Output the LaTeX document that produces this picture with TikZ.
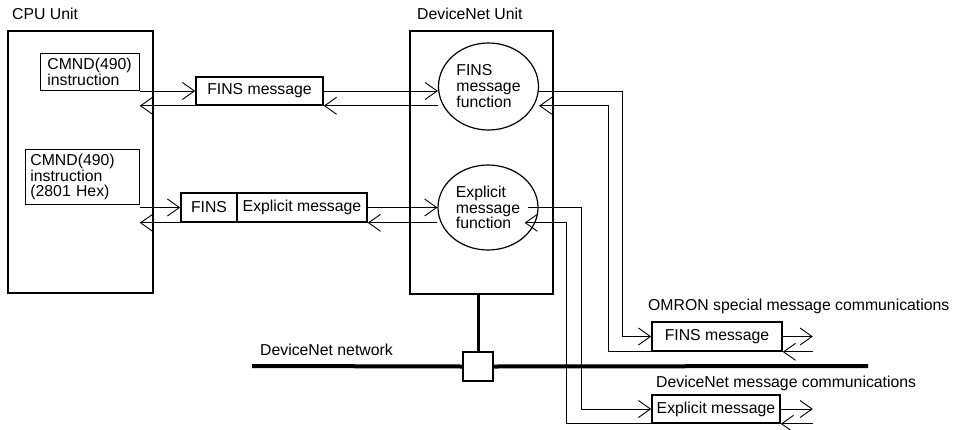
\documentclass[tikz,border=0pt]{standalone}
\usepackage{fontspec}
\setmainfont{Liberation Sans}
\usetikzlibrary{arrows.meta, shapes.geometric}

\begin{document}
\begin{tikzpicture}[x=1pt, y=-1pt,
    every node/.style={font=\fontsize{15.8}{16}\selectfont},
    unit/.style={draw, line width=1.6pt, inner sep=0pt},
    cmd/.style={draw, line width=0.8pt, anchor=north west, align=left, inner ysep=0pt, font=\fontsize{15.8}{13}\selectfont},
    msgbox/.style={draw, line width=1.6pt, inner sep=0pt, minimum height=28pt},
    func/.style={draw, ellipse, line width=1.2pt, inner sep=0pt, minimum width=100pt, align=left},
    lbl/.style={anchor=base west, inner sep=0pt},
    net/.style={line width=4pt},
    msg/.style={-{Straight Barb[length=12pt, width=17pt]}, line width=0.9pt}]
    \useasboundingbox (0, 0) rectangle (954, 429);

    \node[unit, minimum width=145pt, minimum height=262pt] at (80.5, 162) (CPU) {};
    \node[unit, minimum width=143pt, minimum height=263pt] at (481.5, 162.5) (DNU) {};
    \node[lbl] at (12, 19) (lCPU) {CPU Unit};
    \node[lbl] at (417, 19) (lDNU) {DeviceNet Unit};

    \node[cmd, text width=85pt, inner xsep=7pt, minimum height=37pt] at (40, 53) (C1) {CMND(490)\\instruction};
    \node[cmd, text width=104pt, inner xsep=5pt, minimum height=55pt, font=\fontsize{15.8}{14.5}\selectfont] at (25, 149) (C2) {CMND(490)\\instruction\\(2801 Hex)};

    \node[msgbox, minimum width=127pt] at (259.5, 91) (S1) {FINS message};
    \node[msgbox, minimum width=56pt, minimum height=29pt] at (209, 207.5) (F2) {FINS};
    \node[msgbox, minimum width=130pt, minimum height=29pt] at (302, 207.5) (X2) {Explicit message};

    \node[func, minimum height=87pt] at (488.5, 86.5) (E1) {FINS\\message\\function};
    \node[func, minimum height=85pt, font=\fontsize{15.8}{15.5}\selectfont] at (488, 207.5) (E2) {Explicit\\message\\function};

    \node[msgbox, minimum width=130pt, minimum height=29pt] at (717, 336.5) (FM) {FINS message};
    \node[msgbox, minimum width=128pt] at (716, 409) (XM) {Explicit message};
    \node[lbl] at (648, 310) (lOmron) {OMRON special message communications};
    \node[lbl] at (656, 387) (lDnMsg) {DeviceNet message communications};

    \node[draw, line width=1.2pt, minimum width=30pt, minimum height=29pt, inner sep=0pt] at (478, 366.5) (T) {};
    \node[lbl] at (260, 355) (lNet) {DeviceNet network};
    \coordinate (nw) at (252, 366);
    \coordinate (ne) at (868, 366);

    \draw[net] (nw) -- (T.west);
    \draw[net] (T.east) -- (ne);
    \draw[line width=3pt] (DNU.south -| T.north) -- (T.north);

    \draw[msg] (C1.south east |- S1.west) -- (S1.west);
    \draw[msg] (S1.east) -- (E1.west |- S1.east);
    \draw[msg] (E1.west |- S1.south) -- (S1.south east);
    \draw[msg] (S1.south west) -- (C1.east |- S1.south);

    \draw[msg] (C2.south east |- F2.west) -- (F2.west);
    \draw[msg] (X2.east) -- (E2.west |- X2.east);
    \draw[msg] (E2.west |- X2.south) -- (X2.south east);
    \draw[msg] (F2.south west) -- (C2.east |- F2.south);

    \draw[msg] (E1.east |- S1.east) -| ([xshift=-29pt]FM.west) -- (FM.west);
    \draw[msg] (FM.south west) -- ([xshift=-43pt]FM.south west) |- (E1.east |- S1.south);
    \draw[msg] ([xshift=-11pt]E2.east |- X2.east) -| ([xshift=-70pt]XM.west) -- (XM.west);
    \draw[msg] (XM.south west) -- ([xshift=-85pt]XM.south west) |- ([xshift=-14pt]E2.east |- X2.south);

    \draw[msg] (FM.east) -- ([xshift=30pt]FM.east);
    \draw[msg] ([xshift=30pt]FM.south east) -- (FM.south east);
    \draw[msg] (XM.east) -- ([xshift=32pt]XM.east);
    \draw[msg] ([xshift=32pt]XM.south east) -- (XM.south east);
\end{tikzpicture}
\end{document}
